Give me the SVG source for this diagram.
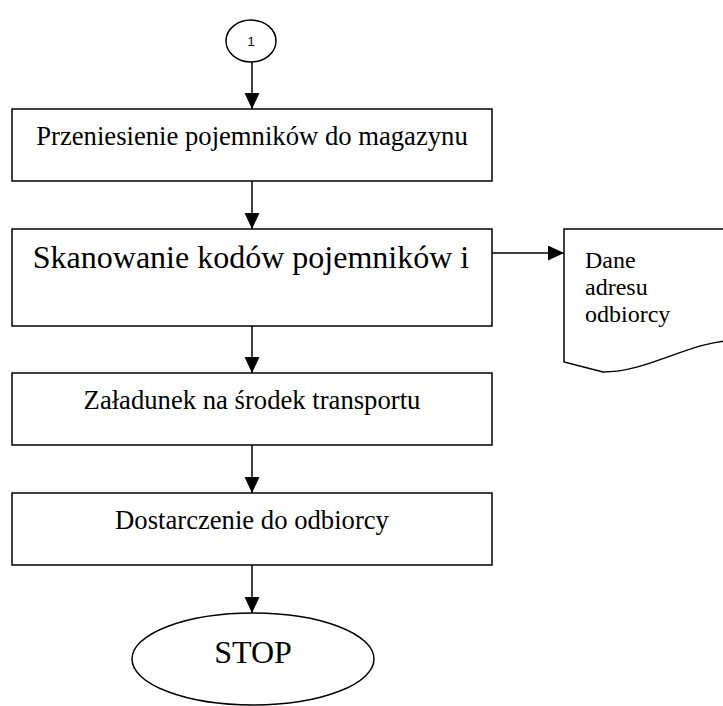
<svg xmlns="http://www.w3.org/2000/svg" width="723" height="706" viewBox="0 0 723 706">
<style>
.shape{fill:#fff;stroke:#000;stroke-width:1.5}
.conn{fill:none;stroke:#000;stroke-width:1.5}
.t{font-family:"Liberation Serif","Times New Roman",serif;fill:#000}
</style>
<defs>
<marker id="ah" markerUnits="userSpaceOnUse" markerWidth="17" markerHeight="16" refX="16" refY="7.5" orient="auto" viewBox="0 0 17 16">
<path d="M0,0 L16,7.5 L0,15 z" fill="#000"/>
</marker>
</defs>
<g id="connectors">
<line class="conn" x1="252" y1="62" x2="252" y2="109" marker-end="url(#ah)"/>
<line class="conn" x1="252" y1="181" x2="252" y2="229" marker-end="url(#ah)"/>
<line class="conn" x1="252" y1="326" x2="252" y2="373" marker-end="url(#ah)"/>
<line class="conn" x1="252" y1="445" x2="252" y2="493" marker-end="url(#ah)"/>
<line class="conn" x1="252" y1="565" x2="252" y2="613" marker-end="url(#ah)"/>
<line class="conn" x1="492" y1="253" x2="564" y2="253" marker-end="url(#ah)"/>
</g>
<g id="connector-1">
<ellipse class="shape" cx="251" cy="41" rx="25" ry="21"/>
<text x="251" y="46" font-size="13" text-anchor="middle" fill="#000" font-family="'Liberation Sans',Arial,sans-serif">1</text>
</g>
<g id="n1">
<rect class="shape" x="12" y="109" width="480" height="72"/>
<text class="t" x="252" y="145" font-size="26.67" text-anchor="middle">Przeniesienie pojemników do magazynu</text>
</g>
<g id="n2">
<rect class="shape" x="12" y="229" width="480" height="97"/>
<text class="t" x="251" y="268" font-size="32" text-anchor="middle">Skanowanie kodów pojemników i</text>
</g>
<g id="doc">
<path class="shape" d="M564,229 L740,229 L740,340 C690,340 650,372 603,372 L564,362 Z"/>
<text class="t" x="585" y="268" font-size="24">Dane</text>
<text class="t" x="585" y="295" font-size="24">adresu</text>
<text class="t" x="585" y="322" font-size="24">odbiorcy</text>
</g>
<g id="n3">
<rect class="shape" x="12" y="373" width="480" height="72"/>
<text class="t" x="252" y="409" font-size="26.67" text-anchor="middle">Załadunek na środek transportu</text>
</g>
<g id="n4">
<rect class="shape" x="12" y="493" width="480" height="72"/>
<text class="t" x="252" y="529" font-size="26.67" text-anchor="middle">Dostarczenie do odbiorcy</text>
</g>
<g id="stop">
<ellipse class="shape" cx="253" cy="659" rx="121" ry="46"/>
<text class="t" x="253" y="663" font-size="32" text-anchor="middle">STOP</text>
</g>
</svg>
